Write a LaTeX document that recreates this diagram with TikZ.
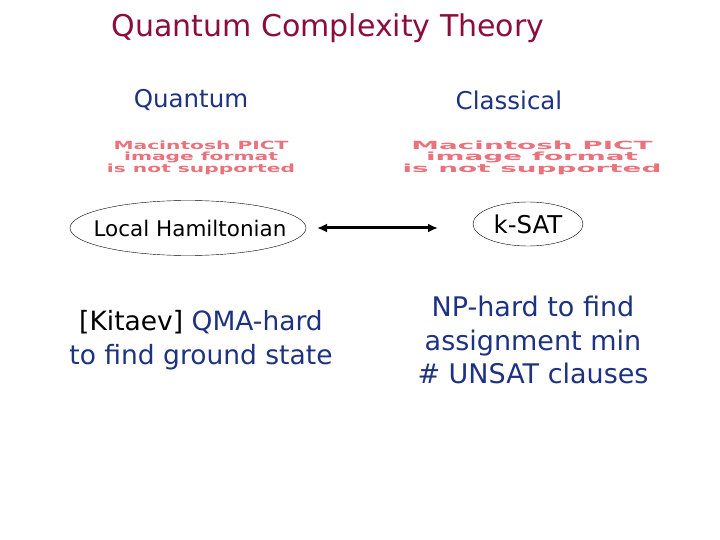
\documentclass[tikz,border=0pt]{standalone}
\usepackage{fontspec}
\usepackage{graphicx}
\setmainfont{DejaVu Sans}
\usetikzlibrary{shapes.geometric,arrows.meta}
\definecolor{titlered}{RGB}{140,12,60}
\definecolor{navy}{RGB}{30,50,130}
\definecolor{pictred}{RGB}{232,115,125}
\newcommand{\picttext}[2]{\resizebox{#1}{#2}{\renewcommand{\arraystretch}{0.85}\begin{tabular}{@{}c@{}}Macintosh PICT\\image format\\is not supported\end{tabular}}}
\tikzset{
  x=1pt,y=-1pt,
  title/.style={text=titlered,font=\fontsize{30}{34}\selectfont,inner sep=0pt},
  colhead/.style={text=navy,font=\fontsize{24.5}{28}\selectfont,inner sep=0pt},
  pict/.style={text=pictred,font=\bfseries\fontsize{9}{9}\selectfont,inner sep=0pt},
  ovaltext/.style={inner sep=0pt,font=\fontsize{21.5}{24}\selectfont},
  oval/.style={draw,thin},
  body/.style={text=navy,font=\fontsize{27}{33.5}\selectfont,align=center,inner sep=0pt},
  link/.style={line width=3pt,{Latex[length=10pt,width=9pt]}-{Latex[length=10pt,width=9pt]}}
}
\begin{document}
\begin{tikzpicture}
\useasboundingbox (0,0) rectangle (720,540);
\node[title] (t) at (328,28) {Quantum Complexity Theory};
\node[colhead] (q) at (191,100) {Quantum};
\node[colhead] (c) at (509,100) {Classical};
\node[pict] (p1) at (201,158) {\picttext{188pt}{20pt}};
\node[pict] (p2) at (532,158) {\picttext{259pt}{20pt}};
\node[ovaltext] (lh) at (190,228) {Local Hamiltonian};
\draw[oval] (188,228) ellipse [x radius=118, y radius=27.5];
\node[ovaltext,font=\fontsize{24.5}{26}\selectfont] (ks) at (528,224) {k-SAT};
\draw[oval] (528,224) ellipse [x radius=55, y radius=22];
\coordinate (a1) at (317,228);
\coordinate (a2) at (438,228);
\draw[link] (a1) -- (a2);
\node[body,font=\fontsize{26.5}{33.5}\selectfont] (kb) at (201,340) {{\color{black}[Kitaev]} QMA-hard\\to find ground state};
\node[body] (nb) at (533,340) {NP-hard to find\\assignment min\\\# UNSAT clauses};
\end{tikzpicture}
\end{document}
